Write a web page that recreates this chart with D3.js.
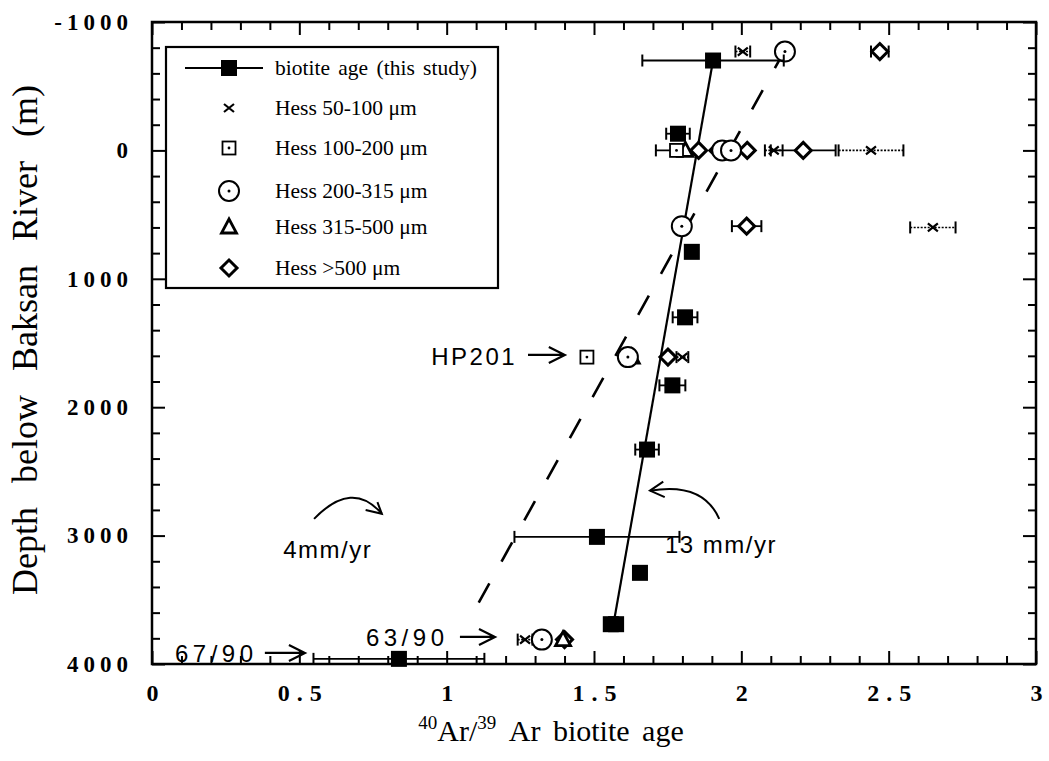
<!DOCTYPE html>
<html>
<head>
<meta charset="utf-8">
<script src="https://cdn.jsdelivr.net/npm/d3@7"></script>
<style>
  html, body { margin: 0; padding: 0; background: #fff; }
  svg { display: block; }
</style>
</head>
<body>
<svg id="chart" width="1049" height="761"></svg>
<script>
// ---- data -------------------------------------------------------------
// 40Ar/39Ar biotite ages (this study): age (Ma), depth (m), 1-sigma error
const biotiteAge   = [1.904, 1.785, 1.832, 1.809, 1.766, 1.68, 1.51, 1.656, 1.557, 1.575, 0.838];
const biotiteDepth = [-700, -130, 790, 1300, 1830, 2330, 3010, 3290, 3690, 3690, 3960];
const biotiteErr   = [0.24, 0.04, 0.02, 0.042, 0.044, 0.04, 0.28, 0.02, 0.02, 0.02, 0.29];

// Hess grain-size fractions: [age, depth, error]
const hess50_100  = [[2.005, -770, 0.025], [2.11, 0, 0.03], [2.44, 0, 0.11], [2.65, 600, 0.077], [1.80, 1610, 0.02], [1.266, 3810, 0.025]];
const hess100_200 = [[1.78, 0, 0.07], [1.476, 1610, 0]];
const hess200_315 = [[2.148, -770, 0], [1.935, 0, 0], [1.965, 0, 0], [1.798, 590, 0], [1.615, 1610, 0], [1.323, 3810, 0]];
const hess315_500 = [[1.81, 0, 0], [1.628, 1610, 0], [1.395, 3810, 0]];
const hess500     = [[2.47, -770, 0.03], [1.855, 0, 0], [1.92, 0, 0], [2.02, 0, 0], [2.21, 0, 0.11], [2.018, 590, 0.05], [1.751, 1610, 0], [1.40, 3810, 0]];

// exhumation-rate lines: [age, depth] end points
const fit13 = [[1.904, -700], [1.566, 3690]];   // 13 mm/yr
const fit4  = [[2.15, -790], [1.09, 3600]];     // 4 mm/yr

// axis ticks
const xMajor = [0, 0.5, 1, 1.5, 2, 2.5, 3];
const xTickLabels = ["0", "0.5", "1", "1.5", "2", "2.5", "3"];
const yMajor = [-1000, 0, 1000, 2000, 3000, 4000];
const yTickLabels = ["-1000", "0", "1000", "2000", "3000", "4000"];

// legend entries
const legendLabels = ["biotite age (this study)", "Hess 50-100 \u03bcm", "Hess 100-200 \u03bcm",
                      "Hess 200-315 \u03bcm", "Hess 315-500 \u03bcm", "Hess >500 \u03bcm"];
const legendShapes = ["biotite", "cross", "square", "circle", "triangle", "diamond"];

// ---- layout -----------------------------------------------------------
const svg = d3.select("#chart");
const x = d3.scaleLinear().domain([0, 3]).range([152, 1036]);
const y = d3.scaleLinear().domain([-1000, 4000]).range([22, 664]);
const serif = "'Liberation Serif', 'Times New Roman', serif";
const sans = "'Liberation Sans', Arial, sans-serif";

// ---- axes (ticks point inward on all four sides) ----------------------
function styleAxis(g) {
  g.select(".domain").remove();
  g.selectAll(".tick line").attr("stroke", "#000").attr("stroke-width", 2);
}
const xMinor = d3.range(0, 31).map(i => i / 10).filter(v => Math.round(v * 10) % 5 !== 0);
const yMinor = d3.range(-1000, 4001, 200).filter(v => v % 1000 !== 0);

svg.append("g").attr("transform", "translate(0,664)")
  .call(d3.axisBottom(x).tickValues(xMinor).tickSize(-8).tickFormat("")).call(styleAxis);
svg.append("g").attr("transform", "translate(0,664)")
  .call(d3.axisBottom(x).tickValues(xMajor).tickSize(-13).tickPadding(20)
        .tickFormat((d, i) => xTickLabels[i]))
  .call(styleAxis)
  .call(g => g.selectAll("text").attr("font-family", serif).attr("font-weight", "bold")
        .attr("font-size", 24).attr("letter-spacing", 7).attr("dx", 3.5).attr("fill", "#000"));
svg.append("g").attr("transform", "translate(0,22)")
  .call(d3.axisTop(x).tickValues(xMinor).tickSize(-8).tickFormat("")).call(styleAxis);
svg.append("g").attr("transform", "translate(0,22)")
  .call(d3.axisTop(x).tickValues(xMajor).tickSize(-13).tickFormat("")).call(styleAxis);

svg.append("g").attr("transform", "translate(152,0)")
  .call(d3.axisLeft(y).tickValues(yMinor).tickSize(-8).tickFormat("")).call(styleAxis);
svg.append("g").attr("transform", "translate(152,0)")
  .call(d3.axisLeft(y).tickValues(yMajor).tickSize(-13).tickPadding(19)
        .tickFormat((d, i) => yTickLabels[i]))
  .call(styleAxis)
  .call(g => g.selectAll("text").attr("font-family", serif).attr("font-weight", "bold")
        .attr("font-size", 23).attr("letter-spacing", 5).attr("fill", "#000"));
svg.append("g").attr("transform", "translate(1036,0)")
  .call(d3.axisRight(y).tickValues(yMinor).tickSize(-8).tickFormat("")).call(styleAxis);
svg.append("g").attr("transform", "translate(1036,0)")
  .call(d3.axisRight(y).tickValues(yMajor).tickSize(-13).tickFormat("")).call(styleAxis);

// plot frame
svg.append("rect")
  .attr("x", x(0)).attr("y", y(-1000))
  .attr("width", x(3) - x(0)).attr("height", y(4000) - y(-1000))
  .attr("fill", "none").attr("stroke", "#000").attr("stroke-width", 2.5);

// axis titles
const xt = svg.append("text")
  .attr("x", 551).attr("y", 741).attr("text-anchor", "middle")
  .attr("font-family", serif).attr("font-size", 30).attr("word-spacing", 5).attr("fill", "#000");
xt.append("tspan").attr("font-size", 19).attr("dy", -12).text("40");
xt.append("tspan").attr("dy", 12).text("Ar/");
xt.append("tspan").attr("font-size", 19).attr("dy", -12).text("39");
xt.append("tspan").attr("dy", 12).text("\u00a0Ar biotite age");

svg.append("text")
  .attr("transform", "translate(37,340) rotate(-90)")
  .attr("text-anchor", "middle")
  .attr("font-family", serif).attr("font-size", 36).attr("word-spacing", 15).attr("fill", "#000")
  .text("Depth below Baksan River (m)");

// ---- symbols ----------------------------------------------------------
function drawShape(g, type, cx, cy) {
  const s = g.append("g").attr("transform", `translate(${cx},${cy})`);
  if (type === "biotite") {
    s.append("rect").attr("x", -8).attr("y", -8).attr("width", 16).attr("height", 16).attr("fill", "#000");
  } else if (type === "cross") {
    s.append("path").attr("d", "M-5,-4L5,4M-5,4L5,-4").attr("stroke", "#000").attr("stroke-width", 2.2).attr("fill", "none");
  } else if (type === "square") {
    s.append("rect").attr("x", -6.5).attr("y", -6.5).attr("width", 13).attr("height", 13)
      .attr("fill", "#fff").attr("stroke", "#000").attr("stroke-width", 1.8);
    s.append("circle").attr("r", 1.4).attr("fill", "#000");
  } else if (type === "circle") {
    s.append("circle").attr("r", 10).attr("fill", "#fff").attr("stroke", "#000").attr("stroke-width", 2);
    s.append("circle").attr("r", 1.5).attr("fill", "#000");
  } else if (type === "triangle") {
    s.append("path").attr("d", "M0,-8L7.5,6L-7.5,6Z").attr("fill", "#fff")
      .attr("stroke", "#000").attr("stroke-width", 2.8).attr("stroke-linejoin", "miter");
  } else if (type === "diamond") {
    s.append("path").attr("d", "M0,-8L8,0L0,8L-8,0Z").attr("fill", "#fff")
      .attr("stroke", "#000").attr("stroke-width", 3);
  }
}

function errorBar(g, cx, cy, lo, hi, dotted) {
  const b = g.append("g").attr("stroke", "#000").attr("fill", "none");
  b.append("line").attr("x1", lo).attr("x2", hi).attr("y1", cy).attr("y2", cy)
    .attr("stroke-width", dotted ? 1.6 : 1.8).attr("stroke-dasharray", dotted ? "2,1.5" : null);
  [lo, hi].forEach(px => b.append("line").attr("x1", px).attr("x2", px)
    .attr("y1", cy - 6).attr("y2", cy + 6).attr("stroke-width", 2));
}

// ---- regression lines -------------------------------------------------
const line = d3.line().x(d => x(d[0])).y(d => y(d[1]));
svg.append("path").datum(fit4).attr("d", line)
  .attr("fill", "none").attr("stroke", "#000").attr("stroke-width", 2.6)
  .attr("stroke-dasharray", "22,25");
svg.append("path").datum(fit13).attr("d", line)
  .attr("fill", "none").attr("stroke", "#000").attr("stroke-width", 2.2);

// ---- Hess data --------------------------------------------------------
const hessGroups = [
  { data: hess500, shape: "diamond", dotted: false },
  { data: hess315_500, shape: "triangle", dotted: false },
  { data: hess200_315, shape: "circle", dotted: false },
  { data: hess100_200, shape: "square", dotted: false },
  { data: hess50_100, shape: "cross", dotted: true }
];
const hessLayer = svg.append("g");
hessGroups.forEach(grp => {
  grp.data.forEach(d => {
    if (d[2] > 0) errorBar(hessLayer, x(d[0]), y(d[1]), x(d[0] - d[2]), x(d[0] + d[2]), grp.dotted);
  });
});
hessGroups.forEach(grp => {
  grp.data.forEach(d => drawShape(hessLayer, grp.shape, x(d[0]), y(d[1])));
});

// ---- biotite ages (this study) ----------------------------------------
const bioLayer = svg.append("g");
biotiteAge.forEach((a, i) => {
  const e = biotiteErr[i];
  if (x(a + e) - x(a) > 9) errorBar(bioLayer, x(a), y(biotiteDepth[i]), x(a - e), x(a + e), false);
  drawShape(bioLayer, "biotite", x(a), y(biotiteDepth[i]));
});

// ---- annotations ------------------------------------------------------
function straightArrow(x1, x2, yy) {
  svg.append("path")
    .attr("d", `M${x1},${yy}L${x2},${yy}M${x2 - 16},${yy - 8}L${x2},${yy}L${x2 - 16},${yy + 8}`)
    .attr("fill", "none").attr("stroke", "#000").attr("stroke-width", 2.2);
}
function annotText(t, px, py, anchor, ls) {
  svg.append("text").attr("x", px).attr("y", py).attr("text-anchor", anchor || "start")
    .attr("font-family", sans).attr("font-size", 24).attr("letter-spacing", ls)
    .attr("fill", "#000").text(t);
}

annotText("HP201", x(1.239), y(1671), "end", 2.5);
straightArrow(x(1.276), x(1.401), y(1593));

annotText("63/90", x(0.726), y(3860), "start", 4.5);
straightArrow(x(1.045), x(1.164), y(3789));

annotText("67/90", x(0.078), y(3984), "start", 4.5);
straightArrow(x(0.383), x(0.519), y(3914));

annotText("4mm/yr", x(0.445), y(3174), "start", 1.5);
svg.append("path")
  .attr("d", `M${x(0.55)},${y(2870)}Q${x(0.68)},${y(2560)} ${x(0.78)},${y(2830)}`)
  .attr("fill", "none").attr("stroke", "#000").attr("stroke-width", 2);
svg.append("path")
  .attr("d", `M${x(0.765)},${y(2740)}L${x(0.78)},${y(2830)}L${x(0.725)},${y(2800)}`)
  .attr("fill", "none").attr("stroke", "#000").attr("stroke-width", 2);

annotText("13 mm/yr", x(1.741), y(3135), "start", 1.5);
svg.append("path")
  .attr("d", `M${x(1.925)},${y(2870)}Q${x(1.87)},${y(2580)} ${x(1.69)},${y(2650)}`)
  .attr("fill", "none").attr("stroke", "#000").attr("stroke-width", 2);
svg.append("path")
  .attr("d", `M${x(1.735)},${y(2580)}L${x(1.69)},${y(2650)}L${x(1.74)},${y(2700)}`)
  .attr("fill", "none").attr("stroke", "#000").attr("stroke-width", 2);

// ---- legend -----------------------------------------------------------
const lg = svg.append("g");
lg.append("rect").attr("x", 166).attr("y", 47).attr("width", 332).attr("height", 241)
  .attr("fill", "#fff").attr("stroke", "#000").attr("stroke-width", 2.2);
const legendY = [68, 108, 148, 191, 227, 268];
legendLabels.forEach((lab, i) => {
  const ly = legendY[i];
  if (legendShapes[i] === "biotite") {
    lg.append("line").attr("x1", 185).attr("x2", 263).attr("y1", ly).attr("y2", ly)
      .attr("stroke", "#000").attr("stroke-width", 2.2);
  }
  drawShape(lg, legendShapes[i], 229, ly);
  lg.append("text").attr("x", 275).attr("y", ly + 7)
    .attr("font-family", serif).attr("font-size", 21.5).attr("word-spacing", i === 0 ? 3 : 0)
    .attr("fill", "#000").text(lab);
});
</script>
</body>
</html>
